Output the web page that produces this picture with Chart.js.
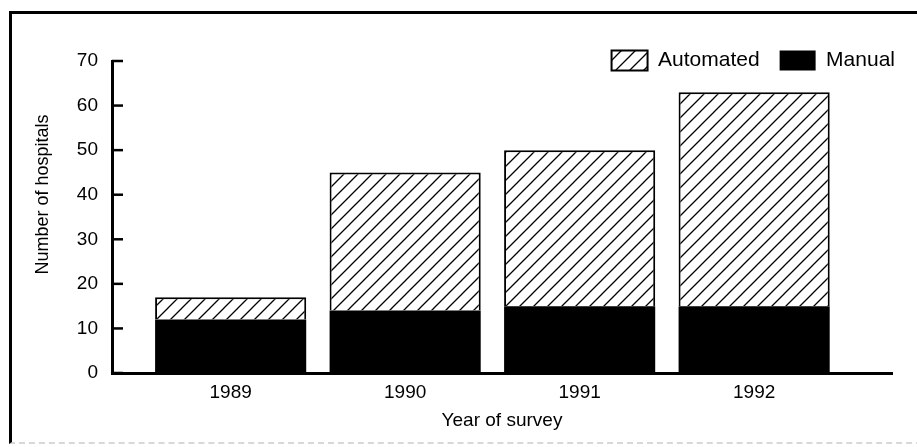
<!DOCTYPE html>
<html>
<head>
<meta charset="utf-8">
<script src="https://cdn.jsdelivr.net/npm/chart.js@4/dist/chart.umd.min.js"></script>
<style>
  html, body { margin: 0; padding: 0; background: #fff; }
  #wrap { position: relative; width: 917px; height: 447px; overflow: hidden; }
  #frame { position: absolute; left: 9px; top: 11px; width: 930px; height: 428px;
           border-top: 3px solid #000; border-left: 3px solid #000; border-bottom: 2px dashed #d8d8d8; }
  canvas { position: absolute; left: 0; top: 0; }
</style>
</head>
<body>
<div id="wrap">
  <div id="frame"></div>
  <canvas id="c" width="917" height="447"></canvas>
</div>
<script>
// ---- data ----
const years = ['1989', '1990', '1991', '1992'];
const manual = [12, 14, 15, 15];
const automated = [5, 31, 35, 48];
const yTicks = [0, 10, 20, 30, 40, 50, 60, 70];

// ---- hatch pattern ----
function makeHatch() {
  const s = 14;
  const c = document.createElement('canvas');
  c.width = s; c.height = s;
  const g = c.getContext('2d');
  g.fillStyle = '#fff';
  g.fillRect(0, 0, s, s);
  g.strokeStyle = '#000';
  g.lineWidth = 1.3;
  g.beginPath();
  g.moveTo(-2, s + 2); g.lineTo(s + 2, -2);
  g.moveTo(-2, 2); g.lineTo(2, -2);
  g.moveTo(s - 2, s + 2); g.lineTo(s + 2, s - 2);
  g.stroke();
  return g.createPattern(c, 'repeat');
}
const hatch = makeHatch();

const FONT = "'Liberation Sans', Arial, Helvetica, sans-serif";

const inwardTicks = {
  id: 'inwardTicks',
  afterDraw(chart) {
    const y = chart.scales.y;
    const ctx = chart.ctx;
    const left = chart.chartArea.left;
    ctx.save();
    ctx.strokeStyle = '#000';
    ctx.lineWidth = 2.5;
    y.ticks.forEach(t => {
      const py = y.getPixelForValue(t.value);
      ctx.beginPath();
      ctx.moveTo(left, py);
      ctx.lineTo(left + 11, py);
      ctx.stroke();
    });
    ctx.restore();
  }
};

const shiftLegend = {
  id: 'shiftLegend',
  afterLayout(chart) {
    const l = chart.legend;
    if (!l) return;
    const dx = 23, dy = 20;
    l.left += dx; l.right += dx;
    l.top += dy; l.bottom += dy;
  }
};

new Chart(document.getElementById('c'), {
  type: 'bar',
  data: {
    datasets: [
      {
        label: 'Manual',
        data: years.map((y, i) => ({ x: Number(y), y: manual[i] })),
        backgroundColor: '#000',
        borderColor: '#000',
        borderWidth: 0
      },
      {
        label: 'Automated',
        data: years.map((y, i) => ({ x: Number(y), y: automated[i] })),
        backgroundColor: hatch,
        borderColor: '#000',
        borderWidth: 2
      }
    ]
  },
  options: {
    responsive: false,
    devicePixelRatio: 1,
    animation: false,
    layout: { padding: { left: 0, right: 25, top: 10, bottom: 0 } },
    barPercentage: 0.866,
    categoryPercentage: 1,
    plugins: {
      tooltip: { enabled: false },
      legend: {
        position: 'top',
        align: 'end',
        reverse: true,
        labels: {
          boxWidth: 36,
          boxHeight: 20,
          padding: 20,
          color: '#000',
          font: { family: FONT, size: 21 }
        }
      }
    },
    scales: {
      x: {
        type: 'linear',
        stacked: true,
        offset: false,
        min: 1988.32,
        max: 1992.79,
        afterBuildTicks: (s) => { s.ticks = years.map(y => ({ value: Number(y) })); },
        afterFit: (s) => { s.height = 74; },
        grid: { display: false, drawTicks: false, offset: false },
        border: { display: true, color: '#000', width: 3 },
        ticks: {
          color: '#000',
          padding: 8,
          font: { family: FONT, size: 19 },
          callback: (v) => years.find(y => Number(y) === v)
        },
        title: {
          display: true,
          text: 'Year of survey',
          color: '#000',
          font: { family: FONT, size: 19 },
          padding: { top: 0, bottom: 15 }
        }
      },
      y: {
        stacked: true,
        min: 0,
        max: 70,
        afterBuildTicks: (s) => { s.ticks = yTicks.map(v => ({ value: v })); },
        afterFit: (s) => { s.width = 112; },
        grid: { display: false, drawTicks: false },
        border: { display: true, color: '#000', width: 3 },
        ticks: {
          color: '#000',
          padding: 14,
          font: { family: FONT, size: 19 }
        },
        title: {
          display: true,
          text: '         Number of hospitals',
          color: '#000',
          font: { family: FONT, size: 18 },
          padding: { top: 32, bottom: 0 }
        }
      }
    }
  },
  plugins: [inwardTicks, shiftLegend]
});
</script>
</body>
</html>
